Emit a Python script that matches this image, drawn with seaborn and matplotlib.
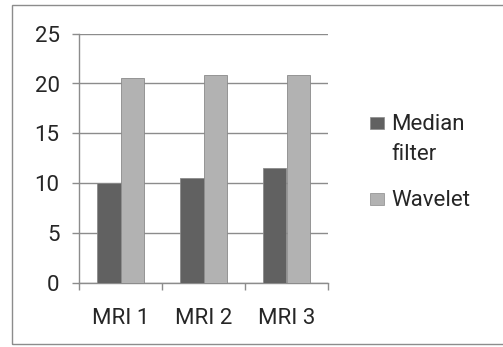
import matplotlib
matplotlib.use('Agg')
import matplotlib.pyplot as plt
import seaborn as sns
import pandas as pd
from matplotlib.patches import Rectangle

# --- data ---
categories = ['MRI 1', 'MRI 2', 'MRI 3']
median_filter = [10.0, 10.55, 11.5]
wavelet = [20.6, 20.9, 20.9]
series_names = ['Median filter', 'Wavelet']
legend_lines = [['Median', 'filter'], ['Wavelet']]
y_ticks = [0, 5, 10, 15, 20, 25]

df = pd.DataFrame({
    'scan': categories * 2,
    'method': [series_names[0]] * 3 + [series_names[1]] * 3,
    'value': median_filter + wavelet,
})

sns.set_theme(style='white')
plt.rcParams['font.family'] = ['Roboto', 'DejaVu Sans']

W, H = 503, 347
FS = 16
TXT = '#262626'
fig = plt.figure(figsize=(W / 100, H / 100), dpi=100)
ax = fig.add_axes([79 / W, 64.3 / H, 249 / W, 249 / H])

palette = {series_names[0]: '#616161', series_names[1]: '#b2b2b2'}
sns.barplot(data=df, x='scan', y='value', hue='method', palette=palette,
            width=0.555, saturation=1, edgecolor='#8a8a8a', linewidth=0.6,
            ax=ax, legend=False, zorder=3)

ax.set_ylim(0, 25)
ax.set_xlim(-0.5, 2.5)
ax.set_yticks(y_ticks)
ax.yaxis.grid(True, color='#8c8c8c', linewidth=1.0, zorder=0)
ax.set_axisbelow(True)
ax.set_xlabel('')
ax.set_ylabel('')

for side in ['top', 'right']:
    ax.spines[side].set_visible(False)
for side in ['left', 'bottom']:
    ax.spines[side].set_color('#8c8c8c')
    ax.spines[side].set_linewidth(1.0)

ax.tick_params(axis='y', left=True, length=5, width=1.0, color='#8c8c8c',
               labelsize=FS, labelcolor=TXT, pad=9)
ax.tick_params(axis='x', which='major', bottom=False, labelsize=FS,
               labelcolor=TXT, pad=12)
ax.set_xticks([-0.5, 0.5, 1.5, 2.5], minor=True)
ax.tick_params(axis='x', which='minor', bottom=True, length=5, width=1.0,
               color='#8c8c8c')

# legend to the right, Excel style (square sits on the first text line)
baselines = [[130, 160], [206.5]]
for name, lines, ys in zip(series_names, legend_lines, baselines):
    fig.patches.append(Rectangle((370 / W, 1 - (ys[0] - 1) / H), 14 / W, 12 / H,
                                 transform=fig.transFigure,
                                 facecolor=palette[name], edgecolor='#8a8a8a',
                                 linewidth=0.5))
    for line, y in zip(lines, ys):
        fig.text(391 / W, 1 - y / H, line, fontsize=FS, color=TXT,
                 ha='left', va='baseline')

# outer chart border
fig.patches.append(Rectangle((12 / W, 3 / H), 495 / W, 339 / H,
                             transform=fig.transFigure, fill=False,
                             edgecolor='#8c8c8c', linewidth=1.0))

fig.savefig('out.png', dpi=100)
plt.close(fig)
